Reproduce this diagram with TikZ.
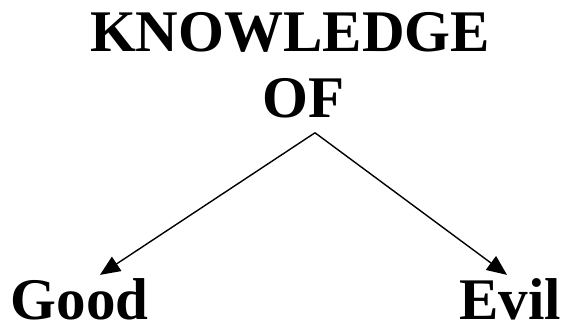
\documentclass[tikz,border=0pt]{standalone}
\usepackage{fontspec}
\setmainfont{Liberation Serif}
\usetikzlibrary{arrows.meta}

\begin{document}
\begin{tikzpicture}[x=1pt,y=-1pt,
    word/.style={font=\fontsize{59}{70}\selectfont\bfseries,inner sep=0pt,anchor=base},
    branch/.style={line width=1.4pt,-{Triangle[length=20pt,width=17pt]}}]
        \useasboundingbox (0,0) rectangle (563,324);
        \node[word] (know) at (290,52) {KNOWLEDGE};
        \node[word] (of) at (303.5,117) {OF};
        \node[word] (good) at (79.5,319) {Good};
        \node[word] (evil) at (510,319) {Evil};
        \coordinate (top) at ([shift={(11.5,15)}]of.south);
        \draw[branch] (top) -- ([shift={(20.5,-3)}]good.north);
        \draw[branch] (top) -- ([shift={(-3,-3)}]evil.north);
    \end{tikzpicture}
\end{document}
